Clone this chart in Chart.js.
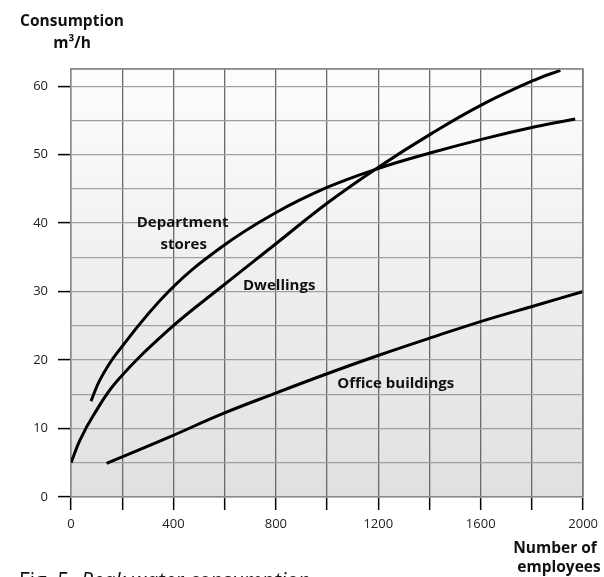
<!DOCTYPE html>
<html>
<head>
<meta charset="utf-8">
<script src="https://cdn.jsdelivr.net/npm/chart.js@4.4.0/dist/chart.umd.min.js"></script>
<style>
  body { margin: 0; background: #fff; }
  #wrap { width: 604px; height: 577px; }
</style>
</head>
<body>
<div id="wrap"><canvas id="chart" width="604" height="577"></canvas></div>
<script>
// values (x = number of employees, y = m3/h)
var deptX = [78, 113, 179, 381, 588, 794, 1000, 1202, 1409, 1611, 1817, 1969];
var deptY = [14, 17.1, 21.0, 30.0, 36.5, 41.4, 45.2, 48.0, 50.3, 52.3, 54.1, 55.2];

var dwellX = [0, 35, 87, 179, 381, 588, 794, 1000, 1202, 1409, 1611, 1817, 1911];
var dwellY = [5, 8.3, 11.9, 16.9, 24.4, 30.7, 36.8, 42.9, 48.2, 53.1, 57.4, 61, 62.3];

var officeX = [139, 381, 588, 794, 1000, 1202, 1409, 1615, 1817, 2000];
var officeY = [4.9, 8.7, 12.1, 15.1, 18.0, 20.7, 23.3, 25.8, 28, 30];

// curve labels, placed in data units
var labelText = ['Department', 'stores', 'Dwellings', 'Office buildings'];
var labelX = [436, 440, 813, 1268];
var labelY = [40.0, 36.8, 30.8, 16.6];

function pts(xs, ys) {
    var out = [];
    for (var i = 0; i < xs.length; i++) out.push({x: xs[i], y: ys[i]});
    return out;
}

function lineSet(name, xs, ys) {
    return {
        label: name,
        data: pts(xs, ys),
        borderColor: '#000',
        borderWidth: 3,
        pointRadius: 0,
        fill: false,
        tension: 0.4
    };
}

var decor = {
    id: 'decor',
    beforeDraw: function (chart) {
        var ctx = chart.ctx, a = chart.chartArea;
        ctx.save();
        ctx.fillStyle = '#fff';
        ctx.fillRect(0, 0, chart.width, chart.height);
        var g = ctx.createLinearGradient(0, a.top, 0, a.bottom);
        g.addColorStop(0, '#fdfdfd');
        g.addColorStop(1, '#e0e0e0');
        ctx.fillStyle = g;
        ctx.fillRect(a.left, a.top, a.right - a.left, a.bottom - a.top);
        ctx.restore();
    },
    afterDraw: function (chart) {
        var ctx = chart.ctx, a = chart.chartArea;
        var sx = chart.scales.x, sy = chart.scales.y;
        ctx.save();
        ctx.strokeStyle = '#888';
        ctx.lineWidth = 1.5;
        ctx.beginPath();
        ctx.moveTo(a.left, a.top);
        ctx.lineTo(a.right, a.top);
        ctx.lineTo(a.right, a.bottom);
        ctx.stroke();

        ctx.fillStyle = '#111';
        ctx.font = '700 15px "Open Sans", sans-serif';
        ctx.textAlign = 'center';
        ctx.textBaseline = 'middle';
        for (var i = 0; i < labelText.length; i++) {
            ctx.fillText(labelText[i], sx.getPixelForValue(labelX[i]), sy.getPixelForValue(labelY[i]));
        }

        // axis titles
        ctx.font = '700 15.5px "Open Sans", sans-serif';
        ctx.fillText('Consumption', 72, 22);
        ctx.fillText('m\u00b3/h', 72, 44);
        ctx.fillText('Number of', 555, 549);
        ctx.fillText('employees', 559, 568);

        // caption, cut off at the bottom edge
        ctx.textAlign = 'left';
        ctx.textBaseline = 'top';
        ctx.font = '400 21px "Open Sans", sans-serif';
        ctx.fillText('Fig. 5', 19, 572);
        ctx.font = 'italic 400 21px "Open Sans", sans-serif';
        ctx.fillText('Peak water consumption', 81, 572);
        ctx.restore();
    }
};

new Chart(document.getElementById('chart'), {
    type: 'line',
    data: {
        datasets: [
            lineSet('Department stores', deptX, deptY),
            lineSet('Dwellings', dwellX, dwellY),
            lineSet('Office buildings', officeX, officeY)
        ]
    },
    options: {
        responsive: false,
        animation: false,
        layout: { padding: { top: 69, right: 19, left: 0, bottom: 0 } },
        plugins: { legend: { display: false }, tooltip: { enabled: false } },
        scales: {
            x: {
                type: 'linear',
                min: 0,
                max: 2000,
                afterFit: function (s) { s.height = 80; },
                ticks: {
                    stepSize: 200,
                    autoSkip: false,
                    maxRotation: 0,
                    padding: 6,
                    color: '#222',
                    font: { family: '"Open Sans", sans-serif', size: 13 },
                    callback: function (v) { return v % 400 === 0 ? v : ''; }
                },
                grid: {
                    color: '#6a6a6a',
                    lineWidth: 1.3,
                    tickLength: 13,
                    tickColor: '#000',
                    tickWidth: 1.5
                },
                border: { color: '#888', width: 1.5 }
            },
            y: {
                min: 0,
                max: 62.5,
                afterFit: function (s) { s.width = 71; },
                ticks: {
                    stepSize: 5,
                    autoSkip: false,
                    padding: 10,
                    color: '#222',
                    font: { family: '"Open Sans", sans-serif', size: 13 },
                    callback: function (v) { return v % 10 === 0 ? v : ''; }
                },
                grid: {
                    color: '#a0a0a0',
                    lineWidth: 1.2,
                    tickLength: 13,
                    tickWidth: 1.5,
                    tickColor: function (c) {
                        return c.tick && c.tick.value % 10 === 0 ? '#000' : 'rgba(0,0,0,0)';
                    }
                },
                border: { color: '#888', width: 1.5 }
            }
        }
    },
    plugins: [decor]
});
</script>
</body>
</html>
